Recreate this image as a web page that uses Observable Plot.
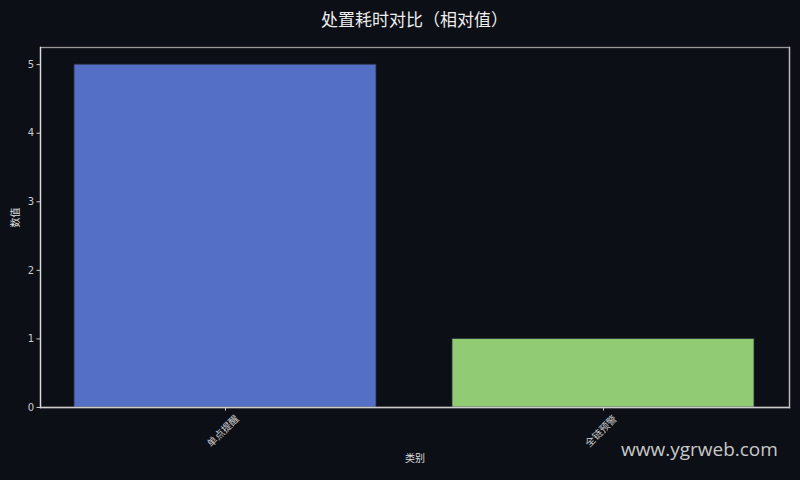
<!DOCTYPE html>
<html><head><meta charset="utf-8">
<script src="https://cdn.jsdelivr.net/npm/d3@7"></script>
<script src="https://cdn.jsdelivr.net/npm/@observablehq/plot@0.6"></script>
<style>
html,body{margin:0;padding:0;background:#0c0f16;}
#wrap{position:relative;width:800px;height:480px;font-family:"Noto Sans CJK SC","Noto Sans",sans-serif;}
#title{height:36px;box-sizing:border-box;padding-top:8px;padding-left:29px;text-align:center;color:#eeeeee;font-size:17px;line-height:22px;}
#wm{position:absolute;left:621px;top:436px;color:#dddddd;font-size:19px;font-family:"Open Sans","Noto Sans",sans-serif;opacity:0.9;}
#chart svg{display:block;}
</style></head><body>
<div id="wrap">
<div id="title">处置耗时对比（相对值）</div>
<div id="chart"></div>
<div id="wm">www.ygrweb.com</div>
</div>
<script>
const categories = ["单点提醒", "全链预警"];
const values = [5, 1];
const colors = ["#5470c6", "#91cc75"];
const yTicks = [0, 1, 2, 3, 4, 5];
const yLabel = "数值";
const xLabel = "类别";

const data = categories.map((c, i) => ({category: c, value: values[i], color: colors[i]}));

const chart = Plot.plot({
  width: 800,
  height: 444,
  marginLeft: 40,
  marginRight: 11,
  marginTop: 11,
  marginBottom: 73,
  style: {background: "#0c0f16", color: "#cccccc", fontSize: "10px", fontFamily: "'DejaVu Sans','Noto Sans CJK SC',sans-serif"},
  x: {domain: categories, paddingInner: 0.2, paddingOuter: 0.09, label: null},
  y: {domain: [0, 5.25], label: null},
  marks: [
    Plot.barY(data, {x: "category", y: "value", fill: "color", stroke: "#2a2f3a", strokeWidth: 0.8}),
    Plot.frame({stroke: "#999999", strokeWidth: 1.3}),
    Plot.frame({anchor: "left", stroke: "#dddddd", strokeWidth: 1.3}),
    Plot.frame({anchor: "bottom", stroke: "#cccccc", strokeWidth: 1.3}),
    Plot.frame({anchor: "right", stroke: "#bbbbbb", strokeWidth: 1.3}),
    Plot.axisY({ticks: yTicks, tickFormat: d3.format("d"), tickSize: 3.5, tickPadding: 3, label: null, stroke: "#cccccc"}),
    Plot.axisX({tickSize: 3.5, tickFormat: () => "", label: null, stroke: "#cccccc"}),
    Plot.text(categories, {x: d => d, frameAnchor: "bottom", dy: 26, rotate: -45, textAnchor: "middle", fill: "#cccccc", fontSize: 10, fontFamily: "'Noto Sans CJK SC',sans-serif"}),
    Plot.text([yLabel], {frameAnchor: "left", dx: -25, rotate: -90, fill: "#dddddd", fontSize: 10, fontFamily: "'Noto Sans CJK SC',sans-serif"}),
    Plot.text([xLabel], {frameAnchor: "bottom", dy: 54, fill: "#dddddd", fontSize: 10, fontFamily: "'Noto Sans CJK SC',sans-serif"})
  ]
});
document.getElementById("chart").appendChild(chart);
</script>
</body></html>
